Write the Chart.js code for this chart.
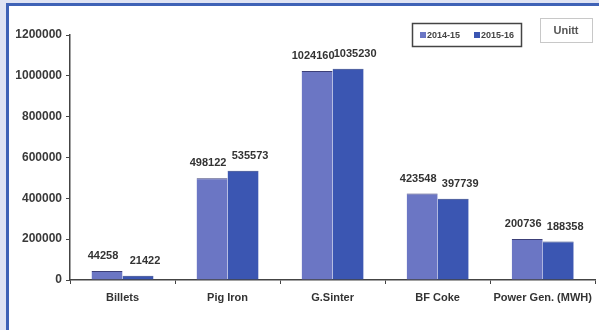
<!DOCTYPE html>
<html>
<head>
<meta charset="utf-8">
<script src="https://cdn.jsdelivr.net/npm/chart.js@4"></script>
<style>
    html, body { margin: 0; padding: 0; }
    body { width: 599px; height: 330px; background: #dfe3f3; position: relative; overflow: hidden; }
    .frame {
        position: absolute; left: 6px; top: 3px; width: 600px; height: 340px;
        background: #ffffff; border-left: 3px solid #3f62b6; border-top: 3px solid #3f62b6;
    }
    #wrap { position: absolute; left: 0; top: 0; width: 599px; height: 330px; }
</style>
</head>
<body>
<div class="frame"></div>
<div id="wrap"><canvas id="prodChart" width="599" height="330"></canvas></div>
<script>
const categories = ["Billets", "Pig Iron", "G.Sinter", "BF Coke", "Power Gen. (MWH)"];
const seriesLabels = ["2014-15", "2015-16"];
const values2014 = [44258, 498122, 1024160, 423548, 200736];
const values2015 = [21422, 535573, 1035230, 397739, 188358];
const yTicks = [0, 200000, 400000, 600000, 800000, 1000000, 1200000];
const unitText = "Unitt";

const colors = ["#6b76c4", "#3b56b2"];
const fontFamily = "'Liberation Sans', Arial, sans-serif";
const labelShift = [-4, 7];

const chartCanvas = document.getElementById("prodChart");

// value labels above each bar
const valueLabels = {
    id: "valueLabels",
    afterDatasetsDraw(chart) {
        const ctx = chart.ctx;
        ctx.save();
        ctx.font = "bold 11px " + fontFamily;
        ctx.fillStyle = "#333333";
        ctx.textAlign = "center";
        ctx.textBaseline = "middle";
        chart.data.datasets.forEach((ds, i) => {
            const meta = chart.getDatasetMeta(i);
            meta.data.forEach((bar, j) => {
                ctx.fillText(String(ds.data[j]), bar.x + labelShift[i], bar.y - 15);
            });
        });
        ctx.restore();
    },
};

// boxed legend + unit box in the top right corner
const boxedLegend = {
    id: "boxedLegend",
    afterDraw(chart) {
        const ctx = chart.ctx;
        ctx.save();
        ctx.strokeStyle = "#444444";
        ctx.lineWidth = 1.5;
        ctx.strokeRect(412.5, 23.5, 109, 23);
        ctx.font = "bold 9px " + fontFamily;
        ctx.textBaseline = "middle";
        ctx.textAlign = "left";
        let x = 420;
        seriesLabels.forEach((label, i) => {
            ctx.fillStyle = colors[i];
            ctx.fillRect(x, 32, 6, 6);
            ctx.fillStyle = "#444444";
            ctx.fillText(label, x + 7, 35.5);
            x += 54;
        });

        ctx.strokeStyle = "#c8c8c8";
        ctx.lineWidth = 1;
        ctx.strokeRect(540.5, 18.5, 52, 24);
        ctx.font = "bold 11px " + fontFamily;
        ctx.fillStyle = "#555555";
        ctx.textAlign = "center";
        ctx.fillText(unitText, 566, 31);
        ctx.restore();
    },
};

new Chart(chartCanvas, {
    type: "bar",
    data: {
        labels: categories,
        datasets: [
            {
                label: seriesLabels[0],
                data: values2014,
                backgroundColor: colors[0],
                borderColor: "#3c3f78",
                borderWidth: { top: 1, left: 0, right: 0, bottom: 0 },
                categoryPercentage: 0.59,
                barPercentage: 1.0,
            },
            {
                label: seriesLabels[1],
                data: values2015,
                backgroundColor: colors[1],
                borderColor: "#283c80",
                borderWidth: { top: 1, left: 0, right: 0, bottom: 0 },
                categoryPercentage: 0.59,
                barPercentage: 1.0,
            },
        ],
    },
    options: {
        responsive: false,
        animation: false,
        layout: { padding: { left: 0, top: 35, right: 1, bottom: 0 } },
        plugins: {
            legend: { display: false },
            tooltip: { enabled: false },
        },
        scales: {
            x: {
                offset: true,
                grid: {
                    offset: true,
                    drawOnChartArea: false,
                    tickLength: 4,
                    color: "#444444",
                },
                border: { display: true, color: "#444444", width: 1.5 },
                ticks: {
                    color: "#333333",
                    font: { family: fontFamily, size: 11, weight: "bold" },
                    padding: 7,
                    maxRotation: 0,
                    autoSkip: false,
                },
                afterFit(scale) {
                    scale.height = 50;
                },
            },
            y: {
                min: 0,
                max: 1200000,
                afterBuildTicks(scale) {
                    scale.ticks = yTicks.map((v) => ({ value: v }));
                },
                grid: {
                    drawOnChartArea: false,
                    tickLength: 4,
                    color: "#444444",
                },
                border: { display: true, color: "#444444", width: 1.5 },
                ticks: {
                    color: "#3a3a3a",
                    font: { family: fontFamily, size: 12, weight: "bold" },
                    padding: 4,
                    callback: (value) => String(value),
                },
                afterFit(scale) {
                    scale.width = 70;
                },
            },
        },
    },
    plugins: [valueLabels, boxedLegend],
});
</script>
</body>
</html>
